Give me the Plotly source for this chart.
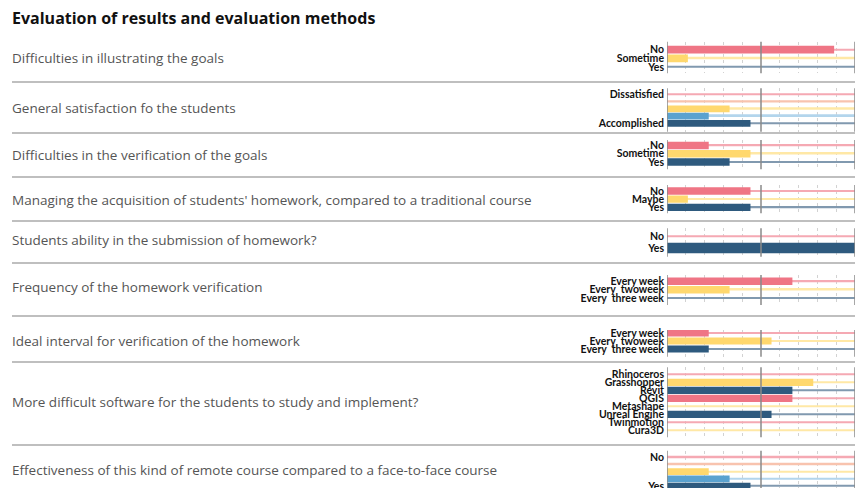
import plotly.graph_objects as go

W, H = 861, 488

title = "Evaluation of results and evaluation methods"

questions = [
    "Difficulties in illustrating the goals",
    "General satisfaction fo the students",
    "Difficulties in the verification of the goals",
    "Managing the acquisition of students' homework, compared to a traditional course",
    "Students ability in the submission of homework?",
    "Frequency of the homework verification",
    "Ideal interval for verification of the homework",
    "More difficult software for the students to study and implement?",
    "Effectiveness of this kind of remote course compared to a face-to-face course",
]

cat_3_sometime = ["No", "Sometime", "Yes"]
cat_satisf = ["Dissatisfied", "s2", "s3", "s4", "Accomplished"]
cat_satisf_text = ["Dissatisfied", "", "", "", "Accomplished"]
cat_maybe = ["No", "Maybe", "Yes"]
cat_noyes = ["No", "Yes"]
cat_week = ["Every week", "Every\u00a0 twoweek", "Every\u00a0 three week"]
cat_soft = ["Rhinoceros", "Grasshopper", "Revit", "QGIS", "Metashape",
            "Unreal Engine", "Twinmotion", "Cura3D"]
cat_eff = ["No", "e2", "e3", "e4", "Yes"]
cat_eff_text = ["No", "", "", "", "Yes"]

# percentages of respondents
v_illustrating = [88.9, 11.1, 0]
v_satisfaction = [0, 0, 33.3, 22.2, 44.4]
v_verification = [22.2, 44.4, 33.3]
v_managing = [44.4, 11.1, 44.4]
v_ability = [0, 100]
v_frequency = [66.7, 33.3, 0]
v_ideal = [22.2, 55.6, 22.2]
v_software = [0, 77.8, 66.7, 66.7, 0, 55.6, 0, 0]
v_effect = [0, 0, 22.2, 33.3, 44.4]

RED, ORANGE, YELLOW, LBLUE, DBLUE = "#EF7585", "#F6A58A", "#FFD86E", "#5AA2CF", "#2E5A7E"
TRACK = {RED: "#F5A9B3", ORANGE: "#F8C3AE", YELLOW: "#FFE8A6", LBLUE: "#B3D5EC", DBLUE: "#8199AF"}
C3 = [RED, YELLOW, DBLUE]
C5 = [RED, ORANGE, YELLOW, LBLUE, DBLUE]
C2 = [RED, DBLUE]
C8 = [RED, YELLOW, DBLUE, RED, YELLOW, DBLUE, RED, YELLOW]

sections = [
    # cats, ticktext, values, colors, axis top, axis bottom, first row, last row, label y
    (cat_3_sometime, cat_3_sometime, v_illustrating, C3, 41.7, 73.3, 49.7, 67.0, 58),
    (cat_satisf, cat_satisf_text, v_satisfaction, C5, 88.3, 131.7, 94.3, 123.3, 108),
    (cat_3_sometime, cat_3_sometime, v_verification, C3, 140.0, 169.3, 145.4, 162.0, 155),
    (cat_maybe, cat_maybe, v_managing, C3, 185.0, 213.3, 191.0, 207.3, 200),
    (cat_noyes, cat_noyes, v_ability, C2, 228.3, 256.7, 236.3, 248.0, 240),
    (cat_week, cat_week, v_frequency, C3, 275.0, 305.0, 281.3, 298.0, 287),
    (cat_week, cat_week, v_ideal, C3, 330.0, 356.7, 333.0, 349.0, 341),
    (cat_soft, cat_soft, v_software, C8, 367.3, 437.3, 374.3, 430.3, 402),
    (cat_eff, cat_eff_text, v_effect, C5, 450.7, 488.0, 457.3, 486.0, 470),
]
separators = [82, 133, 177, 221, 263, 316, 362, 445]

X0, X1 = 667, 855
fig = go.Figure()
layout = dict(
    width=W, height=H, margin=dict(l=0, r=0, t=0, b=0, pad=0, autoexpand=False),
    paper_bgcolor="white", plot_bgcolor="white",
    showlegend=False, barmode="overlay",
    font=dict(family="Open Sans", color="#222"),
)
shapes = []
annotations = [dict(text=title, x=10 / W, y=1 - 18 / H, xref="paper", yref="paper",
                    xanchor="left", yanchor="middle", showarrow=False,
                    font=dict(family="Open Sans", size=16, color="#111", weight="bold"))]

for i, (cats, ttext, vals, cols, T, B, r0, rN, ly) in enumerate(sections, start=1):
    n = len(cats)
    s = (rN - r0) / (n - 1)
    xa = "x" if i == 1 else f"x{i}"
    ya = "y" if i == 1 else f"y{i}"
    fig.add_trace(go.Bar(
        x=[100] * n, y=cats, orientation="h", width=1.7 / s,
        marker=dict(color=[TRACK[c] for c in cols], line=dict(width=0)),
        xaxis=xa, yaxis=ya, hoverinfo="skip"))
    fig.add_trace(go.Bar(
        x=vals, y=cats, orientation="h", width=0.9 if n != 5 else 0.94,
        marker=dict(color=cols, line=dict(width=0)),
        xaxis=xa, yaxis=ya))
    layout[f"xaxis{i}"] = dict(
        domain=[X0 / W, X1 / W], range=[0, 100], anchor=ya, automargin=False,
        showticklabels=False, showgrid=False, zeroline=False, showline=False,
        tickmode="linear", tick0=0, dtick=50, ticks="",
        minor=dict(dtick=10, showgrid=True, griddash="dot", gridcolor="#d2d2d2", gridwidth=1),
    )
    layout[f"yaxis{i}"] = dict(
        domain=[max(0, 1 - B / H), 1 - T / H], anchor=xa, automargin=False,
        type="category", categoryorder="array", categoryarray=cats,
        tickmode="array", tickvals=cats, ticktext=ttext,
        range=[(B - r0) / s, (T - r0) / s],
        showgrid=False, zeroline=False, showline=False, ticks="",
        tickfont=dict(family="Lato", size=10.5, color="#111", weight="bold"),
        ticklabelstandoff=2,
    )
    for xv in (0, 50, 100):
        shapes.append(dict(type="line", xref=xa, yref=f"{ya} domain", x0=xv, x1=xv,
                           y0=0, y1=1, line=dict(color="#8a8a8a", width=1.5)))
    annotations.append(dict(text=questions[i - 1], x=10 / W, y=1 - ly / H,
                            xref="paper", yref="paper", xanchor="left", yanchor="middle",
                            showarrow=False,
                            font=dict(family="Open Sans", size=13.5, color="#555")))

for sy in separators:
    shapes.append(dict(type="line", xref="paper", yref="paper", x0=12 / W, x1=X1 / W,
                       y0=1 - sy / H, y1=1 - sy / H, line=dict(color="#aaaaaa", width=1.5)))

layout["shapes"] = shapes
layout["annotations"] = annotations
fig.update_layout(**layout)
fig.write_html("out.html", config={"displayModeBar": False},
               post_script="document.body.style.margin='0';document.body.style.overflow='hidden';")
